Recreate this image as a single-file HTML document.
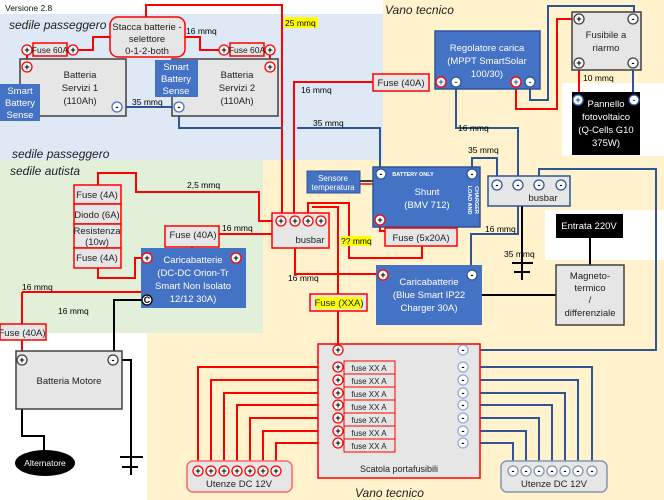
<!DOCTYPE html>
<html><head><meta charset="utf-8"><style>
html,body{margin:0;padding:0;background:#fff}
svg{display:block;font-family:"Liberation Sans",sans-serif}
</style></head><body>
<svg width="664" height="500" viewBox="0 0 664 500" xmlns="http://www.w3.org/2000/svg">
<!-- backgrounds -->
<rect x="0" y="0" width="664" height="500" fill="#fff"/>
<rect x="383" y="0" width="281" height="500" fill="#fff2cc"/>
<rect x="263" y="160" width="120" height="340" fill="#fff2cc"/>
<rect x="147" y="333" width="116" height="167" fill="#fff2cc"/>
<rect x="0" y="14" width="383" height="146" fill="#dee9f5"/>
<rect x="0" y="160" width="263" height="173" fill="#e2efd9"/>
<rect x="562" y="83" width="102" height="73" fill="#fff"/>
<rect x="545" y="210" width="119" height="50" fill="#fff"/>

<g font-size="12" font-style="italic" fill="#222">
<text x="9" y="29">sedile passeggero</text>
<text x="385" y="14">Vano tecnico</text>
<text x="12" y="158">sedile passeggero</text>
<text x="10" y="175">sedile autista</text>
<text x="355" y="497">Vano tecnico</text>
</g>
<text x="5" y="11" font-size="8.5" fill="#111">Versione 2.8</text>

<!-- wires -->
<g fill="none" stroke-width="2">
<g stroke="#ff0000">
<polyline points="146,17 146,5 282,5 282,221"/>
<polyline points="294,221 294,82 373,82"/>
<polyline points="73,50 93,50 93,37 110,37"/>
<polyline points="185,37 200,37 200,50 224,50"/>
<line x1="27" y1="50" x2="27" y2="67"/>
<line x1="270" y1="50" x2="270" y2="67"/>
<polyline points="516,82 516,109 557,109 557,19 579,19"/>
<line x1="579" y1="63" x2="579" y2="100"/>
<polyline points="281,221 259,221 259,192 136,192 136,173 98,173 98,185"/>
<polyline points="219,234 272,234"/>
<polyline points="192,247 192,252 236,252 236,258"/>
<polyline points="98,268 98,278 135,278 135,258 147,258"/>
<polyline points="22,292 141,292"/>
<polyline points="22,292 22,360"/>
<polyline points="308,221 308,203 349,203 349,258 422,258 422,246"/>
<polyline points="312,207 338,207 338,294"/>
<polyline points="295,221 295,274 383,274"/>
<polyline points="380,220 380,231 385,231"/>
<line x1="338" y1="311" x2="338" y2="350"/>
<polyline points="338,367 198,367 198,471"/>
<polyline points="338,380 211,380 211,471"/>
<polyline points="338,393 224,393 224,471"/>
<polyline points="338,405 237,405 237,471"/>
<polyline points="338,418 250,418 250,471"/>
<polyline points="338,431 263,431 263,471"/>
<polyline points="338,443 276,443 276,471"/>
</g>
<g stroke="#2f5597">
<line x1="117" y1="107" x2="179" y2="107"/>
<polyline points="179,107 179,128 283,128"/>
<polyline points="297,128 380,128 380,174"/>
<polyline points="456,82 456,128 518,128 518,185"/>
<polyline points="530,82 530,100 548,100 548,6 634,6 634,19"/>
<line x1="633" y1="63" x2="633" y2="100"/>
<polyline points="472,174 472,158 497,158 497,185"/>
<polyline points="539,185 539,169 656,169 656,350 463,350"/>
<polyline points="518,185 518,234 471,234 471,275"/>
<polyline points="463,367 592,367 592,471"/>
<polyline points="463,380 578,380 578,471"/>
<polyline points="463,393 565,393 565,471"/>
<polyline points="463,405 552,405 552,471"/>
<polyline points="463,418 539,418 539,471"/>
<polyline points="463,431 526,431 526,471"/>
<polyline points="463,443 513,443 513,471"/>
</g>
<g stroke="#000">
<polyline points="147,300 114,300 114,360"/>
<polyline points="22,360 22,436 44,436 44,452"/>
<polyline points="113,360 131,360 131,475"/>
<line x1="120" y1="457" x2="143" y2="457"/>
<line x1="122" y1="467" x2="138" y2="467"/>
<line x1="522" y1="185" x2="522" y2="280"/>
<line x1="512" y1="263" x2="533" y2="263"/>
<line x1="514" y1="272" x2="530" y2="272"/>
<line x1="482" y1="295" x2="556" y2="295"/>
<line x1="590" y1="238" x2="590" y2="265"/>
</g>
<line x1="360" y1="181" x2="373" y2="181" stroke="#000" stroke-width="1.5"/>
<line x1="360" y1="184" x2="373" y2="184" stroke="#f00" stroke-width="1.5"/>
</g>

<!-- boxes -->
<g stroke-width="1.5">
<rect x="110" y="17" width="75" height="40" rx="8" fill="#e7e6e6" stroke="#ff0000"/>
<rect x="20" y="59" width="106" height="57" fill="#e7e6e6" stroke="#404040"/>
<rect x="172" y="59" width="106" height="57" fill="#e7e6e6" stroke="#404040"/>
<rect x="33" y="43" width="34" height="13" fill="#e7e6e6" stroke="#f00"/>
<rect x="230" y="43" width="34" height="13" fill="#e7e6e6" stroke="#f00"/>
<rect x="373" y="74" width="56" height="17" fill="#e7e6e6" stroke="#f00"/>
<rect x="435" y="31" width="105" height="58" fill="#4472c4" stroke="#2f5597"/>
<rect x="572" y="12" width="69" height="58" fill="#e7e6e6" stroke="#404040"/>
<rect x="572" y="92" width="68" height="63" fill="#000"/>
<rect x="373" y="167" width="107" height="60" fill="#4472c4" stroke="#2f5597"/>
<rect x="307" y="171" width="53" height="22" fill="#4472c4" stroke="#2f5597" stroke-width="1"/>
<rect x="488" y="176" width="82" height="30" fill="#e7e6e6" stroke="#2f5597"/>
<rect x="272" y="213" width="57" height="35" fill="#e7e6e6" stroke="#f00"/>
<rect x="385" y="228" width="72" height="18" fill="#e7e6e6" stroke="#f00"/>
<rect x="165" y="226" width="54" height="21" fill="#e7e6e6" stroke="#f00"/>
<rect x="74" y="185" width="47" height="19" fill="#e7e6e6" stroke="#f00"/>
<rect x="74" y="204" width="47" height="20" fill="#e7e6e6" stroke="#f00"/>
<rect x="74" y="224" width="47" height="24" fill="#e7e6e6" stroke="#f00"/>
<rect x="74" y="248" width="47" height="20" fill="#e7e6e6" stroke="#f00"/>
<rect x="141" y="248" width="105" height="60" fill="#4472c4"/>
<rect x="376" y="265" width="106" height="60" fill="#4472c4"/>
<rect x="556" y="214" width="67" height="24" fill="#000"/>
<rect x="556" y="265" width="68" height="60" fill="#e7e6e6" stroke="#404040"/>
<rect x="310" y="294" width="57" height="17" fill="#e7e6e6" stroke="#f00"/>
<rect x="0" y="324" width="46" height="16" fill="#e7e6e6" stroke="#f00"/>
<rect x="16" y="351" width="106" height="58" fill="#e7e6e6" stroke="#404040"/>
<rect x="318" y="344" width="162" height="134" fill="#e7e6e6" stroke="#f00"/>
<rect x="187" y="461" width="105" height="31" rx="6" fill="#e7e6e6" stroke="#ff6666"/>
<rect x="501" y="461" width="106" height="31" rx="6" fill="#e7e6e6" stroke="#8497b0"/>
</g>
<g fill="#e7e6e6" stroke="#f00" stroke-width="1">
<rect x="344" y="361" width="51" height="13"/><rect x="344" y="374" width="51" height="13"/>
<rect x="344" y="387" width="51" height="13"/><rect x="344" y="400" width="51" height="13"/>
<rect x="344" y="413" width="51" height="13"/><rect x="344" y="426" width="51" height="13"/>
<rect x="344" y="439" width="51" height="13"/>
</g>
<rect x="0" y="84" width="40" height="37" fill="#4472c4"/>
<rect x="155" y="60" width="43" height="37" fill="#4472c4"/>
<ellipse cx="45" cy="463" rx="30" ry="13" fill="#000"/>
<rect x="284" y="17" width="34" height="11" fill="#ffff00"/>
<rect x="341" y="236" width="30" height="10" fill="#ffff00"/>
<rect x="315" y="297" width="47" height="12" fill="#ffff00"/>

<!-- terminals -->
<g font-size="9" font-weight="bold" text-anchor="middle" stroke-width="1.3">
<g fill="#fff" stroke="#f00">
<circle cx="27" cy="50" r="5"/><circle cx="73" cy="50" r="5"/><circle cx="27" cy="67" r="5"/>
<circle cx="224" cy="50" r="5"/><circle cx="270" cy="50" r="5"/><circle cx="270" cy="67" r="5"/>
<circle cx="441" cy="82" r="5"/><circle cx="516" cy="82" r="5"/>
<circle cx="281" cy="221" r="5"/><circle cx="295" cy="221" r="5"/><circle cx="308" cy="221" r="5"/><circle cx="321" cy="221" r="5"/>
<circle cx="147" cy="258" r="5"/><circle cx="236" cy="258" r="5"/>
<circle cx="380" cy="220" r="5"/><circle cx="383" cy="275" r="5"/>
<circle cx="338" cy="350" r="5"/><circle cx="338" cy="367" r="5"/><circle cx="338" cy="380" r="5"/><circle cx="338" cy="393" r="5"/><circle cx="338" cy="405" r="5"/><circle cx="338" cy="418" r="5"/><circle cx="338" cy="431" r="5"/><circle cx="338" cy="443" r="5"/>
<circle cx="198" cy="471" r="5"/><circle cx="211" cy="471" r="5"/><circle cx="224" cy="471" r="5"/><circle cx="237" cy="471" r="5"/><circle cx="250" cy="471" r="5"/><circle cx="263" cy="471" r="5"/><circle cx="276" cy="471" r="5"/>
<circle cx="578" cy="100" r="5" stroke="#4472c4"/>
</g>
<g fill="#fff" stroke="#2f5597">
<circle cx="117" cy="107" r="5" stroke="#4472c4"/><circle cx="179" cy="107" r="5" stroke="#4472c4"/>
<circle cx="456" cy="82" r="5"/><circle cx="530" cy="82" r="5"/>
<circle cx="381" cy="174" r="5"/><circle cx="472" cy="174" r="5"/>
<circle cx="497" cy="185" r="5"/><circle cx="518" cy="185" r="5"/><circle cx="539" cy="185" r="5"/><circle cx="561" cy="185" r="5"/>
<circle cx="472" cy="275" r="5"/><circle cx="634" cy="100" r="5"/>
<circle cx="463" cy="350" r="5" stroke="#8faadc"/><circle cx="463" cy="367" r="5" stroke="#8faadc"/><circle cx="463" cy="380" r="5" stroke="#8faadc"/><circle cx="463" cy="393" r="5" stroke="#8faadc"/><circle cx="463" cy="405" r="5" stroke="#8faadc"/><circle cx="463" cy="418" r="5" stroke="#8faadc"/><circle cx="463" cy="431" r="5" stroke="#8faadc"/><circle cx="463" cy="443" r="5" stroke="#8faadc"/>
<circle cx="513" cy="471" r="5" stroke="#8497b0"/><circle cx="526" cy="471" r="5" stroke="#8497b0"/><circle cx="539" cy="471" r="5" stroke="#8497b0"/><circle cx="552" cy="471" r="5" stroke="#8497b0"/><circle cx="565" cy="471" r="5" stroke="#8497b0"/><circle cx="578" cy="471" r="5" stroke="#8497b0"/><circle cx="592" cy="471" r="5" stroke="#8497b0"/>
</g>
<g fill="#fff" stroke="#404040">
<circle cx="579" cy="19" r="5"/><circle cx="633" cy="19" r="5"/><circle cx="579" cy="63" r="5"/><circle cx="633" cy="63" r="5"/>
<circle cx="22" cy="360" r="5"/><circle cx="113" cy="360" r="5"/>
</g>
<circle cx="147" cy="300" r="5" fill="#fff" stroke="#000"/>
<g fill="#000" stroke="none">
<text x="27" y="53">+</text><text x="73" y="53">+</text><text x="27" y="70">+</text>
<text x="224" y="53">+</text><text x="270" y="53">+</text><text x="270" y="70">+</text>
<text x="117" y="110">-</text><text x="179" y="110">-</text>
<text x="579" y="22">+</text><text x="633" y="22">-</text><text x="579" y="66">+</text><text x="633" y="66">-</text>
<text x="281" y="224">+</text><text x="295" y="224">+</text><text x="308" y="224">+</text><text x="321" y="224">+</text>
<text x="147" y="261">+</text><text x="236" y="261">+</text><text x="147" y="303">C</text>
<text x="380" y="223">+</text><text x="383" y="278">+</text>
<text x="381" y="177">-</text><text x="472" y="177">-</text>
<text x="497" y="188">-</text><text x="518" y="188">-</text><text x="539" y="188">-</text><text x="561" y="188">-</text>
<text x="472" y="278">-</text>
<text x="22" y="363">+</text><text x="113" y="363">-</text>
<text x="338" y="353">+</text><text x="338" y="370">+</text><text x="338" y="383">+</text><text x="338" y="396">+</text><text x="338" y="408">+</text><text x="338" y="421">+</text><text x="338" y="434">+</text><text x="338" y="446">+</text>
<text x="463" y="353">-</text><text x="463" y="370">-</text><text x="463" y="383">-</text><text x="463" y="396">-</text><text x="463" y="408">-</text><text x="463" y="421">-</text><text x="463" y="434">-</text><text x="463" y="446">-</text>
<text x="198" y="474">+</text><text x="211" y="474">+</text><text x="224" y="474">+</text><text x="237" y="474">+</text><text x="250" y="474">+</text><text x="263" y="474">+</text><text x="276" y="474">+</text>
<text x="513" y="474">-</text><text x="526" y="474">-</text><text x="539" y="474">-</text><text x="552" y="474">-</text><text x="565" y="474">-</text><text x="578" y="474">-</text><text x="592" y="474">-</text>
</g>
<g fill="#2f5597" stroke="none">
<text x="441" y="85">+</text><text x="456" y="85">-</text><text x="516" y="85">+</text><text x="530" y="85">-</text>
<text x="578" y="103">+</text><text x="634" y="103">-</text>
</g>
</g>

<!-- labels -->
<g font-size="9.5" text-anchor="middle" fill="#222">
<text x="147" y="30">Stacca batterie -</text>
<text x="147" y="42">selettore</text>
<text x="147" y="54">0-1-2-both</text>
<text x="50" y="53" font-size="8.5">Fuse 60A</text>
<text x="247" y="53" font-size="8.5">Fuse 60A</text>
<text x="80" y="78">Batteria</text><text x="80" y="91">Servizi 1</text><text x="80" y="104">(110Ah)</text>
<text x="237" y="78">Batteria</text><text x="237" y="91">Servizi 2</text><text x="237" y="104">(110Ah)</text>
<text x="401" y="86">Fuse (40A)</text>
<text x="606" y="38">Fusibile a</text><text x="606" y="51">riarmo</text>
<text x="193" y="238">Fuse (40A)</text>
<text x="97" y="198">Fuse (4A)</text>
<text x="97" y="218">Diodo (6A)</text>
<text x="97" y="234">Resistenza</text><text x="97" y="245">(10w)</text>
<text x="97" y="261">Fuse (4A)</text>
<text x="421" y="241">Fuse (5x20A)</text>
<text x="543" y="201">busbar</text>
<text x="310" y="243">busbar</text>
<text x="339" y="306">Fuse (XXA)</text>
<text x="22" y="336">Fuse (40A)</text>
<text x="69" y="384">Batteria Motore</text>
<text x="590" y="279">Magneto-</text><text x="590" y="291">termico</text><text x="590" y="303">/</text><text x="590" y="316">differenziale</text>
<text x="399" y="472" font-size="9">Scatola portafusibili</text>
<text x="239" y="487">Utenze DC 12V</text>
<text x="554" y="487">Utenze DC 12V</text>
</g>
<g font-size="8" text-anchor="middle" fill="#222">
<text x="369" y="371">fuse XX A</text><text x="369" y="384">fuse XX A</text><text x="369" y="397">fuse XX A</text><text x="369" y="410">fuse XX A</text><text x="369" y="423">fuse XX A</text><text x="369" y="436">fuse XX A</text><text x="369" y="449">fuse XX A</text>
</g>
<g font-size="9.5" text-anchor="middle" fill="#fff">
<text x="20" y="94">Smart</text><text x="20" y="106">Battery</text><text x="20" y="118">Sense</text>
<text x="176" y="70">Smart</text><text x="176" y="82">Battery</text><text x="176" y="94">Sense</text>
<text x="487" y="51">Regolatore carica</text><text x="487" y="64">(MPPT SmartSolar</text><text x="487" y="77">100/30)</text>
<text x="606" y="107">Pannello</text><text x="606" y="120">fotovoltaico</text><text x="606" y="133">(Q-Cells G10</text><text x="606" y="146">375W)</text>
<text x="427" y="195">Shunt</text><text x="427" y="208">(BMV 712)</text>
<text x="333" y="181" font-size="8">Sensore</text><text x="333" y="190" font-size="8">temperatura</text>
<text x="193" y="263">Caricabatterie</text><text x="193" y="276">(DC-DC Orion-Tr</text><text x="193" y="289">Smart Non Isolato</text><text x="193" y="302">12/12 30A)</text>
<text x="429" y="285">Caricabatterie</text><text x="429" y="298">(Blue Smart IP22</text><text x="429" y="311">Charger 30A)</text>
<text x="589" y="229">Entrata 220V</text>
<text x="45" y="466" font-size="8.5">Alternatore</text>
<text x="413" y="176" font-size="5.5" font-weight="bold">BATTERY ONLY</text>
<text transform="translate(468,200) rotate(90)" font-size="5.5" font-weight="bold">LOAD AND</text>
<text transform="translate(475,200) rotate(90)" font-size="5.5" font-weight="bold">CHARGER</text>
</g>
<g font-size="8.5" fill="#000">
<text x="285" y="26">25 mmq</text>
<text x="186" y="34">16 mmq</text>
<text x="132" y="105">35 mmq</text>
<text x="301" y="93">16 mmq</text>
<text x="313" y="126">35 mmq</text>
<text x="458" y="131">16 mmq</text>
<text x="583" y="81">10 mmq</text>
<text x="468" y="153">35 mmq</text>
<text x="187" y="188">2,5 mmq</text>
<text x="222" y="231">16 mmq</text>
<text x="341" y="244">?? mmq</text>
<text x="485" y="232">16 mmq</text>
<text x="504" y="257">35 mmq</text>
<text x="288" y="281">16 mmq</text>
<text x="22" y="290">16 mmq</text>
<text x="58" y="314">16 mmq</text>
</g>
</svg>
</body></html>
